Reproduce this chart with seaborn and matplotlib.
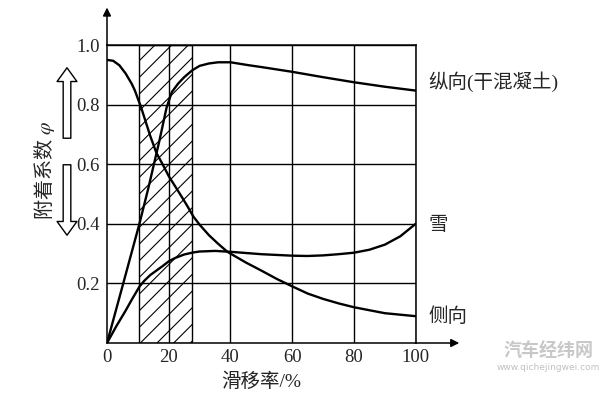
import matplotlib
matplotlib.use("Agg")
import matplotlib.pyplot as plt
import seaborn as sns
import pandas as pd
from matplotlib.patches import Rectangle

# ---- data ----
long_x = [0, 5, 10.5, 13.4, 17, 19.3, 21, 23, 25, 27.6, 30, 33, 36, 40, 46, 50, 60, 70, 80, 90, 100]
long_y = [0, 0.19, 0.40, 0.52, 0.68, 0.79, 0.842, 0.87, 0.892, 0.915, 0.93, 0.938, 0.942, 0.942, 0.932, 0.926, 0.91, 0.892, 0.875, 0.86, 0.847]

lat_x = [0, 2, 4, 6, 8, 9, 10, 11, 12, 14, 16, 18, 20, 22, 24, 26, 28, 30, 33, 36, 39, 45, 50, 55, 60, 65, 70, 75, 80, 85, 90, 95, 100]
lat_y = [0.95, 0.947, 0.932, 0.905, 0.87, 0.848, 0.82, 0.792, 0.76, 0.695, 0.638, 0.60, 0.56, 0.527, 0.494, 0.46, 0.424, 0.397, 0.362, 0.333, 0.306, 0.27, 0.243, 0.215, 0.19, 0.166, 0.148, 0.133, 0.12, 0.11, 0.10, 0.095, 0.09]

snow_x = [0, 3, 6, 8, 10.5, 12, 14, 16, 18, 20, 22, 25, 28, 30, 35, 40, 50, 60, 65, 70, 75, 80, 85, 90, 95, 100]
snow_y = [0, 0.056, 0.108, 0.145, 0.189, 0.208, 0.228, 0.243, 0.258, 0.274, 0.285, 0.297, 0.304, 0.307, 0.309, 0.306, 0.298, 0.293, 0.292, 0.294, 0.298, 0.303, 0.313, 0.33, 0.358, 0.40]

series_names = ["纵向(干混凝土)", "雪", "侧向"]
hatch_range = [10.5, 27.6]
x_ticks = [0, 20, 40, 60, 80, 100]
y_ticks = [0.2, 0.4, 0.6, 0.8, 1.0]
x_label = "滑移率/%"
y_label = "附着系数 $\\varphi$"

sns.set_theme(style="white")
plt.rcParams["font.family"] = ["Liberation Serif", "Noto Sans CJK SC", "DejaVu Sans"]
plt.rcParams["mathtext.fontset"] = "stix"
plt.rcParams["hatch.linewidth"] = 0.8
plt.rcParams["hatch.color"] = "black"

fig = plt.figure(figsize=(6.0, 3.96), dpi=100)
ax = fig.add_axes([107 / 600, 1 - 343 / 396, (415.7 - 107) / 600, (343 - 45) / 396])

df = pd.concat([
    pd.DataFrame({"x": long_x, "y": long_y, "s": series_names[0]}),
    pd.DataFrame({"x": snow_x, "y": snow_y, "s": series_names[1]}),
    pd.DataFrame({"x": lat_x, "y": lat_y, "s": series_names[2]}),
])

# hatched band
ax.add_patch(Rectangle((hatch_range[0], 0), hatch_range[1] - hatch_range[0], 1.0,
                       facecolor="white", edgecolor="black", hatch="//", lw=1.0, zorder=1))

for xv in x_ticks[1:]:
    ax.axvline(xv, color="black", lw=1.0, zorder=2)
for yv in y_ticks:
    ax.axhline(yv, color="black", lw=1.0, zorder=2)

sns.lineplot(data=df, x="x", y="y", units="s", estimator=None, color="black",
             lw=1.7, ax=ax, zorder=3, sort=False)

ax.set_xlim(0, 100)
ax.set_ylim(0, 1.0)
ax.set_xticks(x_ticks)
ax.set_yticks(y_ticks)
ax.set_xticklabels([str(v) for v in x_ticks], fontsize=13.5, family="Liberation Serif")
ax.set_yticklabels([f"{v:.1f}" for v in y_ticks], fontsize=13.5, family="Liberation Serif")
ax.tick_params(axis="both", length=0)
ax.tick_params(axis="x", pad=4)
ax.tick_params(axis="y", pad=5)
for sp in ax.spines.values():
    sp.set_color("black")
    sp.set_linewidth(1.1)

cjk = ["Liberation Serif", "Noto Sans CJK SC", "DejaVu Sans"]
ax.set_xlabel(x_label, fontsize=14, family=cjk)
ax.xaxis.set_label_coords(0.501, -0.098)
ax.set_ylabel(y_label, fontsize=14.5, family=["Noto Sans CJK SC", "DejaVu Sans"])
ax.yaxis.set_label_coords(-0.162, 0.58)

# axis arrows
ax.annotate("", xy=(0, 1.135), xytext=(0, 0.99), xycoords="axes fraction",
            arrowprops=dict(arrowstyle="-|>", color="black", lw=1.1, mutation_scale=12),
            annotation_clip=False)
ax.annotate("", xy=(1.15, 0), xytext=(0.99, 0), xycoords="axes fraction",
            arrowprops=dict(arrowstyle="-|>", color="black", lw=1.1, mutation_scale=12),
            annotation_clip=False)

# hollow arrows beside y label
hollow = dict(arrowstyle="simple,head_length=0.9,head_width=1.3,tail_width=0.5",
              facecolor="white", edgecolor="black", lw=1.0, mutation_scale=11)
ax.annotate("", xy=(67, 396 - 65), xytext=(67, 396 - 141), xycoords="figure pixels",
            arrowprops=hollow, annotation_clip=False)
ax.annotate("", xy=(67, 396 - 238), xytext=(67, 396 - 162), xycoords="figure pixels",
            arrowprops=hollow, annotation_clip=False)

# curve labels
fig.text(428 / 600, 1 - 81.7 / 396, series_names[0], fontsize=14, family=cjk, va="center", ha="left")
fig.text(428 / 600, 1 - 225 / 396, series_names[1], fontsize=14, family=cjk, va="center", ha="left")
fig.text(428 / 600, 1 - 316.7 / 396, series_names[2], fontsize=14, family=cjk, va="center", ha="left")

# watermark
fig.text(548 / 600, 1 - 350 / 396, "汽车经纬网", fontsize=13, color="#c8c8c8", weight="bold",
         family=["Noto Sans CJK SC"], ha="center", va="center")
fig.text(548 / 600, 1 - 368 / 396, "www.qichejingwei.com", fontsize=6.5, color="#c0c0c0",
         family=["DejaVu Sans"], ha="center", va="center")

fig.savefig("out.png", dpi=100)
